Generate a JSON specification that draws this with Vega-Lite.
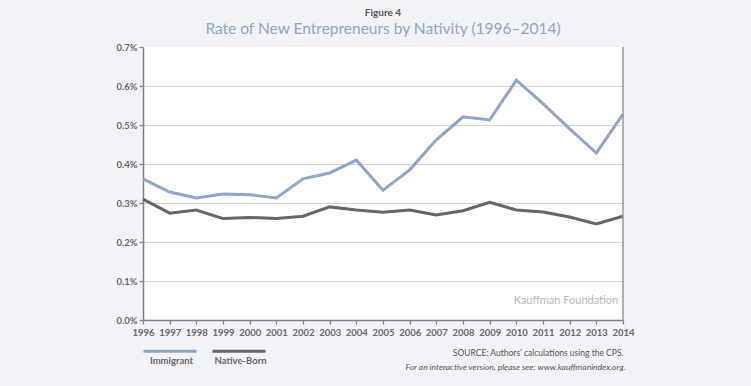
{
  "$schema": "https://vega.github.io/schema/vega-lite/v6.json",
  "autosize": {"type": "none"},
  "width": 480,
  "height": 273,
  "padding": {"left": 143, "top": 47, "right": 128, "bottom": 66},
  "background": "#f1f3f7",
  "title": {
    "text": "Figure 4",
    "subtitle": "Rate of New Entrepreneurs by Nativity (1996–2014)",
    "anchor": "middle",
    "font": "Lato",
    "fontSize": 10,
    "fontWeight": "bold",
    "color": "#555555",
    "subtitleFont": "Lato",
    "subtitleFontSize": 15.5,
    "subtitleFontWeight": "normal",
    "subtitleColor": "#8ea4c8",
    "subtitlePadding": 4,
    "offset": 5
  },
  "config": {
    "view": {"fill": "white", "stroke": null},
    "font": "Lato",
    "axis": {
      "domainColor": "#808080",
      "domainWidth": 1.5,
      "tickColor": "#808080",
      "tickWidth": 1.2,
      "tickSize": 4,
      "labelFont": "Lato",
      "labelFontSize": 9.5,
      "labelFontWeight": "bold",
      "labelColor": "#6b6470",
      "labelOverlap": false,
      "labelFlush": false
    },
    "axisX": {"grid": false, "tickCount": 18, "format": "d", "labelPadding": 3},
    "axisY": {
      "grid": true,
      "tickCount": 7,
      "format": ".1%",
      "gridColor": "#d4d4d4",
      "gridWidth": 1.2,
      "labelPadding": 2
    }
  },
  "datasets": {
    "rates": [
      {"year": 1996, "group": "Immigrant", "rate": 0.00362},
      {"year": 1997, "group": "Immigrant", "rate": 0.00328},
      {"year": 1998, "group": "Immigrant", "rate": 0.00313},
      {"year": 1999, "group": "Immigrant", "rate": 0.00323},
      {"year": 2000, "group": "Immigrant", "rate": 0.00321},
      {"year": 2001, "group": "Immigrant", "rate": 0.00313},
      {"year": 2002, "group": "Immigrant", "rate": 0.00362},
      {"year": 2003, "group": "Immigrant", "rate": 0.00377},
      {"year": 2004, "group": "Immigrant", "rate": 0.0041},
      {"year": 2005, "group": "Immigrant", "rate": 0.00333},
      {"year": 2006, "group": "Immigrant", "rate": 0.00385},
      {"year": 2007, "group": "Immigrant", "rate": 0.00462},
      {"year": 2008, "group": "Immigrant", "rate": 0.00521},
      {"year": 2009, "group": "Immigrant", "rate": 0.00513},
      {"year": 2010, "group": "Immigrant", "rate": 0.00615},
      {"year": 2011, "group": "Immigrant", "rate": 0.00555},
      {"year": 2012, "group": "Immigrant", "rate": 0.0049},
      {"year": 2013, "group": "Immigrant", "rate": 0.00428},
      {"year": 2014, "group": "Immigrant", "rate": 0.00528},
      {"year": 1996, "group": "Native-Born", "rate": 0.0031},
      {"year": 1997, "group": "Native-Born", "rate": 0.00274},
      {"year": 1998, "group": "Native-Born", "rate": 0.00282},
      {"year": 1999, "group": "Native-Born", "rate": 0.0026},
      {"year": 2000, "group": "Native-Born", "rate": 0.00263},
      {"year": 2001, "group": "Native-Born", "rate": 0.0026},
      {"year": 2002, "group": "Native-Born", "rate": 0.00266},
      {"year": 2003, "group": "Native-Born", "rate": 0.0029},
      {"year": 2004, "group": "Native-Born", "rate": 0.00282},
      {"year": 2005, "group": "Native-Born", "rate": 0.00276},
      {"year": 2006, "group": "Native-Born", "rate": 0.00282},
      {"year": 2007, "group": "Native-Born", "rate": 0.00269},
      {"year": 2008, "group": "Native-Born", "rate": 0.0028},
      {"year": 2009, "group": "Native-Born", "rate": 0.00302},
      {"year": 2010, "group": "Native-Born", "rate": 0.00282},
      {"year": 2011, "group": "Native-Born", "rate": 0.00277},
      {"year": 2012, "group": "Native-Born", "rate": 0.00264},
      {"year": 2013, "group": "Native-Born", "rate": 0.00246},
      {"year": 2014, "group": "Native-Born", "rate": 0.00266}
    ],
    "note": [{"label": "Kauffman Foundation"}]
  },
  "layer": [
    {
      "data": {"name": "rates"},
      "mark": {"type": "line", "strokeWidth": 3, "strokeJoin": "miter"},
      "encoding": {
        "x": {
          "field": "year",
          "type": "quantitative",
          "scale": {"domain": [1996, 2014], "nice": false, "zero": false},
          "axis": {
            "title": "SOURCE: Authors’ calculations using the CPS.",
            "titleAnchor": "end",
            "titleAlign": "right",
            "titleFont": "Lato",
            "titleFontSize": 8.5,
            "titleFontWeight": "normal",
            "titleColor": "#555555",
            "titlePadding": 12
          }
        },
        "y": {
          "field": "rate",
          "type": "quantitative",
          "scale": {"domain": [0, 0.007], "nice": false},
          "axis": {
            "gridOpacity": {"condition": {"test": "datum.value > 0.0069", "value": 0}, "value": 1},
            "title": "For an interactive version, please see: www.kauffmanindex.org.",
            "titleAngle": 0,
            "titleX": 482,
            "titleY": 322,
            "titleAlign": "right",
            "titleBaseline": "alphabetic",
            "titleFont": "Lato",
            "titleFontSize": 8.5,
            "titleFontWeight": "normal",
            "titleFontStyle": "italic",
            "titleColor": "#555555"
          }
        },
        "color": {
          "field": "group",
          "type": "nominal",
          "scale": {"domain": ["Immigrant", "Native-Born"], "range": ["#8ea4c8", "#666666"]},
          "legend": {
            "orient": "none",
            "legendX": -1,
            "legendY": 276,
            "direction": "horizontal",
            "title": null,
            "symbolType": "stroke",
            "symbolSize": 2809,
            "symbolStrokeWidth": 3,
            "labelAlign": "center",
            "labelOffset": -26.5,
            "labelFont": "Lato",
            "labelFontSize": 9.5,
            "labelFontWeight": "bold",
            "labelColor": "#6b6470",
            "columnPadding": 3,
            "padding": 0,
            "encode": {"labels": {"update": {"dy": {"value": 10}}}}
          }
        }
      }
    },
    {
      "data": {"name": "note"},
      "mark": {"type": "rule", "color": "#999999", "strokeWidth": 1.5},
      "encoding": {"x": {"datum": 2014}}
    },
    {
      "data": {"name": "note"},
      "mark": {"type": "text", "font": "Lato", "fontSize": 11, "fill": "#b5b8c6", "align": "center", "baseline": "middle"},
      "encoding": {"text": {"field": "label"}, "x": {"datum": 2011.86}, "y": {"datum": 0.00049}}
    }
  ]
}
